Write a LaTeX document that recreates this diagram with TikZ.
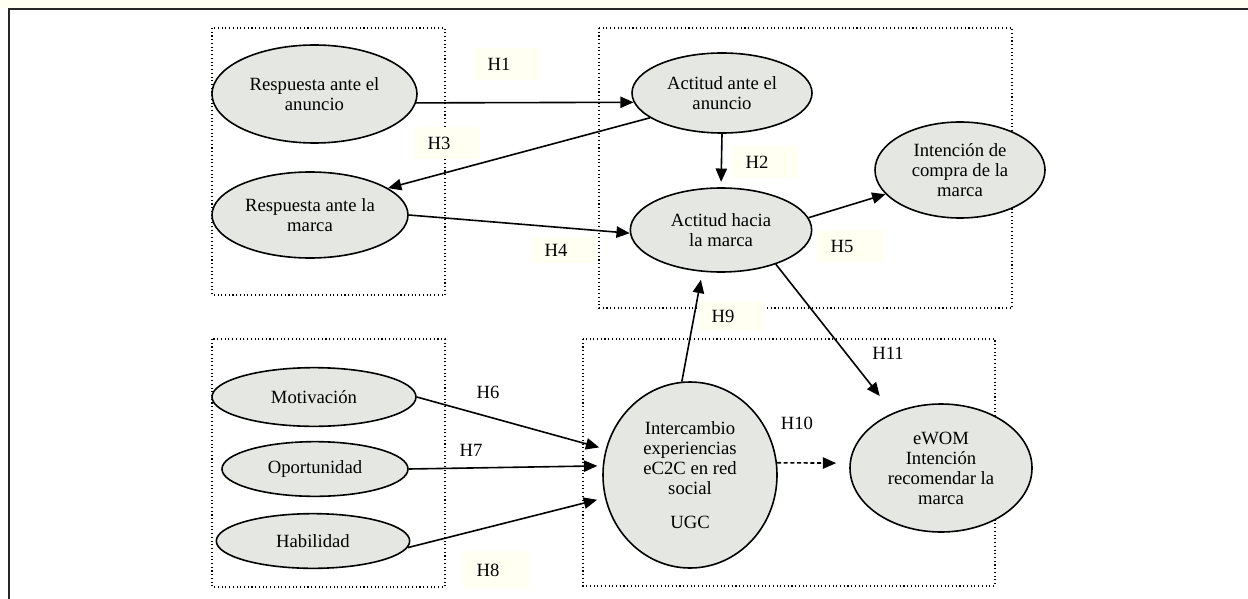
\documentclass[tikz,border=0pt]{standalone}
\usepackage{fontspec}
\setmainfont{Liberation Serif}
\usetikzlibrary{shapes.geometric,arrows.meta}
\definecolor{ovalfill}{RGB}{229,232,226}
\definecolor{hfill}{RGB}{255,255,242}
\tikzset{
    oval/.style={ellipse, draw, line width=1.2pt, fill=ovalfill, inner sep=0pt, align=center, font=\fontsize{14}{15}\selectfont},
    hyp/.style={font=\fontsize{14}{15}\selectfont, inner sep=0pt},
    hbox/.style={hyp, fill=hfill, text width=29pt, inner xsep=10pt, align=left, minimum height=24pt},
    grupo/.style={dotted, line width=0.8pt},
    flecha/.style={-{Triangle[length=10pt,width=8.5pt]}, line width=1.2pt}
}
\begin{document}
\begin{tikzpicture}[x=0.75pt, y=-0.75pt]
    \useasboundingbox (0,0) rectangle (1248,599);
    \fill[hfill] (0,0) rectangle (1248,8);
    \draw[line width=1.5pt, black!85] (9,599) -- (9,9) -- (1248,9);
    \draw[grupo] (212,28) rectangle (445,295);
    \draw[grupo] (599,28) rectangle (1012,308);
    \draw[grupo] (212,339) rectangle (445,587);
    \draw[grupo] (583,339) rectangle (995,586);
    \node[hbox] (h1) at (507,64) {H1};
    \node[hbox] (h3) at (447,143) {H3};
    \node[hbox, minimum height=20pt] (h4) at (564,250) {H4};
    \node[hbox] (h2) at (765,162) {H2};
    \node[hbox] (h5) at (850,246) {H5};
    \node[hbox, minimum height=22pt] (h9) at (731,316) {H9};
    \node[hbox, minimum height=28pt] (h8) at (496,570) {H8};
    \node[hyp] (h6) at (488,392) {H6};
    \node[hyp] (h7) at (471,450) {H7};
    \node[hyp] (h10) at (797,423) {H10};
    \node[hyp] (h11) at (888,353) {H11};
    \node[oval, minimum width=153.75pt, minimum height=73.5pt] (respanuncio) at (314.5,94) {Respuesta ante el\\anuncio};
    \node[oval, minimum width=147pt, minimum height=64.5pt] (respmarca) at (310,215) {Respuesta ante la\\marca};
    \node[oval, minimum width=135pt, minimum height=60pt] (actanuncio) at (722,93) {Actitud ante el\\anuncio};
    \node[oval, minimum width=136pt, minimum height=63pt] (actmarca) at (721,230) {Actitud hacia\\la marca};
    \node[oval, minimum width=127.5pt, minimum height=72pt] (intcompra) at (960,170) {Intención de\\compra de la\\marca};
    \node[oval, minimum width=153pt, minimum height=44pt] (motiv) at (314,397) {Motivación};
    \node[oval, minimum width=139.5pt, minimum height=41pt] (oport) at (315,469) {Oportunidad};
    \node[oval, minimum width=145pt, minimum height=41pt] (habil) at (313,541) {Habilidad};
    \node[oval, minimum width=130.5pt, minimum height=139.5pt] (ugc) at (690,475) {Intercambio\\experiencias\\eC2C en red\\social\\[11pt]UGC};
    \node[oval, minimum width=136.5pt, minimum height=96pt] (ewom) at (941,468) {eWOM\\Intención\\recomendar la\\marca};
    \draw[flecha] (respanuncio.-5) -- (actanuncio.186);
    \draw[flecha] (actanuncio.199) -- (respmarca.19);
    \draw[flecha, shorten >=4pt] (actanuncio.south) -- (actmarca.north);
    \draw[flecha] (respmarca.east) -- (actmarca.182);
    \draw[flecha] (actmarca.8) -- (intcompra.198);
    \draw[flecha, shorten >=6pt] (ugc.95) -- (actmarca.246);
    \draw[flecha, shorten >=16pt] (actmarca.-32) -- (ewom.131);
    \draw[flecha, shorten >=5pt] (motiv.east) -- (ugc.163);
    \draw[flecha, shorten >=4pt] (oport.east) -- (ugc.174);
    \draw[flecha, shorten >=6pt] (habil.-4) -- (ugc.195);
    \draw[flecha, dash pattern=on 3pt off 2pt, shorten >=10pt] (ugc.8) -- (ewom.177);
\end{tikzpicture}
\end{document}
